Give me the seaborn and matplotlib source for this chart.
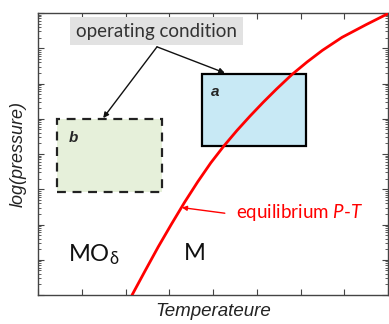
import numpy as np
import pandas as pd
import matplotlib
matplotlib.use("Agg")
import matplotlib.pyplot as plt
import seaborn as sns
from matplotlib.patches import Rectangle
from matplotlib.ticker import LogLocator, NullFormatter

# Equilibrium P-T line (temperature in arbitrary units, pressure on a log scale)
temperature = [2.15, 2.45, 2.75, 3.05, 3.35, 3.65, 3.95, 4.25, 4.55, 4.85,
               5.15, 5.45, 5.80, 6.15, 6.50, 6.95, 7.50, 7.98]
log_pressure = [0.00, 0.69, 1.37, 2.01, 2.63, 3.21, 3.75, 4.23, 4.67, 5.08,
                5.47, 5.84, 6.25, 6.61, 6.94, 7.31, 7.67, 7.97]

# Operating-condition windows: (T_min, T_max, logP_min, logP_max)
window_a = [3.75, 6.13, 4.23, 6.27]
window_b = [0.43, 2.83, 2.92, 4.99]

sns.set_theme(style="ticks")
plt.rcParams["font.family"] = ["Lato", "DejaVu Sans"]
plt.rcParams["mathtext.fontset"] = "custom"
plt.rcParams["mathtext.rm"] = "Lato"
plt.rcParams["mathtext.it"] = "Lato:italic"

fig = plt.figure(figsize=(3.89, 3.24), dpi=100)
ax = fig.add_axes([38 / 389, 29 / 324, 350 / 389, 282 / 324])

df = pd.DataFrame({"T": temperature, "P": [10.0 ** v for v in log_pressure]})

# operating windows
ra = Rectangle((window_a[0], 10 ** window_a[2]), window_a[1] - window_a[0],
               10 ** window_a[3] - 10 ** window_a[2],
               facecolor="#c8e9f5", edgecolor="black", lw=1.6, zorder=2)
ax.add_patch(ra)
rb = Rectangle((window_b[0], 10 ** window_b[2]), window_b[1] - window_b[0],
               10 ** window_b[3] - 10 ** window_b[2],
               facecolor="#e6f0da", edgecolor="#222222", lw=1.6,
               linestyle=(0, (4, 3)), zorder=2)
ax.add_patch(rb)

sns.lineplot(data=df, x="T", y="P", color="#ff0000", lw=2.0, ax=ax, zorder=3,
             sort=False)

ax.set_yscale("log")
ax.set_xlim(0, 8)
ax.set_ylim(1, 1e8)
ax.set_xticks(np.arange(0, 9, 1))
ax.set_yticks([10.0 ** k for k in range(0, 9)])
ax.yaxis.set_minor_locator(LogLocator(base=10, subs=np.arange(2, 10), numticks=100))
ax.yaxis.set_minor_formatter(NullFormatter())
ax.tick_params(axis="both", which="both", direction="in", top=True, right=True,
               labelbottom=False, labelleft=False, color="#444444")
ax.tick_params(which="major", length=4, width=0.8)
ax.tick_params(which="minor", length=2, width=0.6)
for s in ax.spines.values():
    s.set_color("#444444")
    s.set_linewidth(1.0)

ax.set_xlabel("Temperateure", fontsize=13.5, style="italic",
              family="Liberation Sans", labelpad=6, color="#222222")
ax.set_ylabel("log(pressure)", fontsize=13, style="italic",
              family="Liberation Sans", labelpad=8, color="#222222")

# window labels
ax.text(4.05, 10 ** 5.76, "a", fontsize=11, fontweight="bold", style="italic",
        ha="center", va="center", family="Liberation Sans", zorder=4)
ax.text(0.80, 10 ** 4.45, "b", fontsize=11, fontweight="bold", style="italic",
        ha="center", va="center", family="Liberation Sans", zorder=4)

# phase fields
ax.text(0.68, 10 ** 1.13, r"MO$_\mathrm{δ}$", fontsize=17, ha="left",
        va="center", color="#111111")
ax.text(3.59, 10 ** 1.18, "M", fontsize=17, ha="center", va="center",
        color="#111111")

# operating-condition callout
ax.text(2.71, 10 ** 7.48, "operating condition", fontsize=13.5, ha="center",
        va="center", color="#333333",
        bbox=dict(boxstyle="square,pad=0.3", facecolor="#e2e2e2",
                  edgecolor="none"), zorder=5)
for tgt in [(1.49, 10 ** 5.02), (4.27, 10 ** 6.30)]:
    ax.annotate("", xy=tgt, xytext=(2.72, 10 ** 7.04),
                arrowprops=dict(arrowstyle="-|>", color="#111111", lw=1.0,
                                mutation_scale=8, shrinkA=0, shrinkB=0),
                zorder=5)

# equilibrium line callout
ax.annotate("", xy=(3.29, 10 ** 2.48), xytext=(4.27, 10 ** 2.32),
            arrowprops=dict(arrowstyle="-|>", color="#ff0000", lw=1.0,
                            mutation_scale=7, shrinkA=0, shrinkB=0))
ax.text(4.52, 10 ** 2.33, r"equilibrium $P$-$T$", fontsize=13.5,
        color="#ff0000", ha="left", va="center")

fig.savefig("out.png", dpi=100)
